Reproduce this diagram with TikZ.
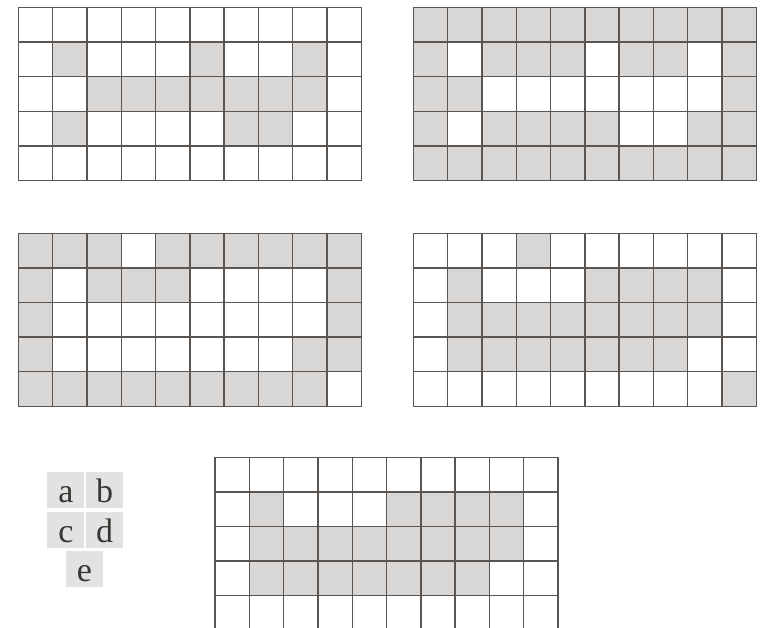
\documentclass[tikz,border=0pt]{standalone}
\usepackage{fontspec}
\setmainfont{Liberation Serif}
\definecolor{cellgray}{HTML}{D9D7D5}
\definecolor{legendgray}{HTML}{E2E2E2}
\definecolor{linegray}{HTML}{5A5550}
\definecolor{lettergray}{HTML}{3A3632}
\newcommand\cw{34.3}
\newcommand\ch{34.6}
\newcommand\pixgrid[5]{% x0, y0, background colour, cell colour, list of row/col
  \begin{scope}[shift={(#1,#2)}]
    \fill[#3] (0,0) rectangle (10*\cw,5*\ch);
    \foreach \r/\c in {#5} \fill[#4] ({(\c-1)*\cw},{(\r-1)*\ch}) rectangle ++(\cw,\ch);
    \foreach \i in {0,...,10} \draw[gridline] ({\i*\cw},0) -- ({\i*\cw},5*\ch);
    \foreach \j in {0,...,5} \draw[gridline] (0,{\j*\ch}) -- (10*\cw,{\j*\ch});
  \end{scope}}
\newcommand\legendfont{\fontsize{34}{34}\selectfont}
\begin{document}
\begin{tikzpicture}[x=1pt,y=-1pt,
  gridline/.style={draw=linegray,line width=1.4pt,line cap=rect},
  legendbox/.style={fill=legendgray,minimum width=37pt,minimum height=36pt,inner sep=0pt,
    text height=25.2pt,text depth=0pt,font=\legendfont,text=lettergray}]
\useasboundingbox (0,0) rectangle (762,628);

% grid a
\pixgrid{18.3}{7.5}{white}{cellgray}{2/2,2/6,2/9,3/3,3/4,3/5,3/6,3/7,3/8,3/9,4/2,4/7,4/8}
% grid b (complement of a)
\pixgrid{413.3}{7.5}{cellgray}{white}{2/2,2/6,2/9,3/3,3/4,3/5,3/6,3/7,3/8,3/9,4/2,4/7,4/8}
% grid c
\pixgrid{18.3}{233.3}{cellgray}{white}{1/4,2/2,2/6,2/7,2/8,2/9,3/2,3/3,3/4,3/5,3/6,3/7,3/8,3/9,4/2,4/3,4/4,4/5,4/6,4/7,4/8,5/10}
% grid d (complement of c)
\pixgrid{413.3}{233.3}{white}{cellgray}{1/4,2/2,2/6,2/7,2/8,2/9,3/2,3/3,3/4,3/5,3/6,3/7,3/8,3/9,4/2,4/3,4/4,4/5,4/6,4/7,4/8,5/10}

% grid e (cut off at the bottom)
\begin{scope}[shift={(215,457.3)}]
  \foreach \r/\c in {2/2,2/6,2/7,2/8,2/9,3/2,3/3,3/4,3/5,3/6,3/7,3/8,3/9,4/2,4/3,4/4,4/5,4/6,4/7,4/8}
    \fill[cellgray] ({(\c-1)*\cw},{(\r-1)*\ch}) rectangle ++(\cw,\ch);
  \foreach \i in {0,...,10} \draw[gridline] ({\i*\cw},0) -- ({\i*\cw},172);
  \foreach \j in {0,...,4} \draw[gridline] (0,{\j*\ch}) -- (10*\cw,{\j*\ch});
\end{scope}

% legend
\node[legendbox] (la) at (65.8,489.7) {a};
\node[legendbox] (lb) at (104.5,489.7) {b};
\node[legendbox] (lc) at (65.8,529.5) {c};
\node[legendbox] (ld) at (104.5,529.5) {d};
\node[legendbox] (le) at (84.3,568.7) {e};
\end{tikzpicture}
\end{document}
